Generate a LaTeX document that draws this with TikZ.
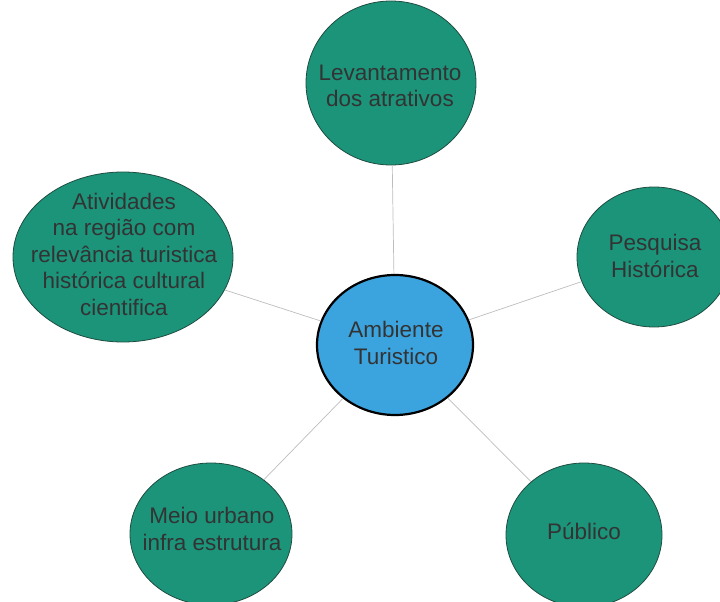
\documentclass[tikz,border=0pt]{standalone}
\usepackage{fontspec}
\setmainfont{Liberation Sans}
\usetikzlibrary{shapes.geometric}
\definecolor{tealc}{HTML}{1B947A}
\definecolor{edgec}{HTML}{1E4D40}
\definecolor{bluec}{HTML}{3BA4DF}
\definecolor{txtc}{HTML}{333333}
\definecolor{linec}{HTML}{BDBDBD}
\begin{document}
\begin{tikzpicture}[x=1pt,y=-1pt,
  bubble/.style={ellipse, draw=edgec, line width=0.8pt, fill=tealc, inner sep=0pt},
  hub/.style={bubble, fill=bluec, draw=black, line width=2.2pt},
  label/.style={inner sep=0pt, align=center, text=txtc, font=\fontsize{22.5}{26.5}\selectfont},
  link/.style={draw=linec, line width=0.7pt}]
\useasboundingbox (0,0) rectangle (720,602);
\clip (0,0) rectangle (720,602);
\node[hub, minimum width=156pt, minimum height=140pt] (hub) at (395,345) {};
\node[bubble, minimum width=170pt, minimum height=164pt] (top) at (391,83) {};
\node[bubble, minimum width=154pt, minimum height=140pt] (right) at (654,257) {};
\node[bubble, minimum width=220pt, minimum height=170pt] (left) at (123,257) {};
\node[bubble, minimum width=162pt, minimum height=142pt] (bl) at (211,534) {};
\node[bubble, minimum width=156pt, minimum height=144pt] (br) at (584,535) {};
\draw[link] (hub) -- (top);
\draw[link] (hub) -- (right);
\draw[link] (hub) -- (left);
\draw[link] (hub) -- (bl);
\draw[link] (hub) -- (br);
\node[label] (thub) at (396,343) {Ambiente\\Turistico};
\node[label] (ttop) at (390,86) {Levantamento\\dos atrativos};
\node[label] (tright) at (655,256) {Pesquisa\\Histórica};
\node[label] (tleft) at (124,254) {Atividades\\na região com\\relevância turistica\\histórica cultural\\cientifica};
\node[label] (tbl) at (212,529) {Meio urbano\\infra estrutura};
\node[label] (tbr) at (584,531) {Público};
\end{tikzpicture}
\end{document}
